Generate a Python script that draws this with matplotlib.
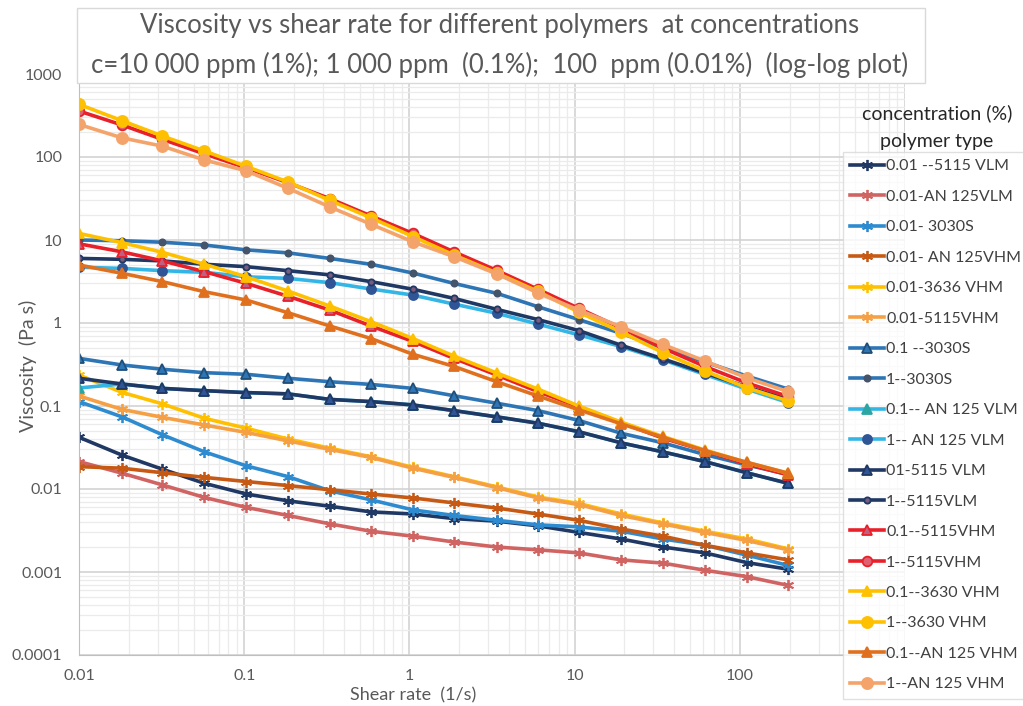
import numpy as np
import matplotlib.pyplot as plt
from matplotlib.patches import Rectangle
from matplotlib.ticker import LogLocator, FixedLocator, FixedFormatter, NullFormatter

plt.rcParams['font.family'] = ['Lato', 'DejaVu Sans']

# shear rate points (1/s)
shear = [0.01, 0.0182, 0.0320, 0.0575, 0.103, 0.184, 0.330, 0.585, 1.05,
         1.86, 3.38, 6.0, 10.6, 19.1, 34.2, 61.4, 110, 196]

# viscosity (Pa s), one list per series
v001_5115VLM = [0.042, 0.0256, 0.0173, 0.0117, 0.0087, 0.0072, 0.0062, 0.0053, 0.0050,
                0.0044, 0.0041, 0.0036, 0.0030, 0.0025, 0.0020, 0.0017, 0.0013, 0.00108]
v001_AN125VLM = [0.0214, 0.0155, 0.0112, 0.0079, 0.0060, 0.0048, 0.0038, 0.0031, 0.0027,
                 0.0023, 0.0020, 0.00185, 0.0017, 0.0014, 0.00128, 0.00105, 0.00088, 0.00069]
v001_3030S = [0.113, 0.074, 0.045, 0.028, 0.019, 0.0141, 0.0095, 0.0074, 0.0056,
              0.0048, 0.0042, 0.0037, 0.0035, 0.0031, 0.0025, 0.0021, 0.0016, 0.0012]
v001_AN125VHM = [0.0186, 0.0178, 0.0157, 0.0138, 0.0123, 0.0110, 0.0098, 0.0087, 0.0078,
                 0.0068, 0.0059, 0.0050, 0.0042, 0.0033, 0.0027, 0.0021, 0.0017, 0.0014]
v001_3636VHM = [0.236, 0.146, 0.106, 0.071, 0.054, 0.040, 0.031, 0.0245, 0.0182,
                0.0141, 0.0106, 0.0080, 0.0067, 0.0050, 0.0039, 0.0031, 0.0025, 0.0019]
v001_5115VHM = [0.132, 0.091, 0.073, 0.059, 0.048, 0.038, 0.030, 0.024, 0.0178,
                0.0138, 0.0104, 0.0078, 0.0065, 0.0048, 0.0038, 0.0030, 0.0024, 0.00185]
v01_3030S = [0.375, 0.312, 0.277, 0.252, 0.241, 0.216, 0.196, 0.182, 0.163,
             0.133, 0.108, 0.088, 0.067, 0.047, 0.036, 0.026, 0.0195, 0.0150]
v1_3030S = [10.0, 9.8, 9.4, 8.7, 7.6, 7.0, 6.0, 5.1, 4.0,
            3.0, 2.28, 1.57, 1.1, 0.75, 0.5, 0.34, 0.23, 0.16]
v01_AN125VLM = [0.165, 0.184, 0.163, 0.153, 0.145, 0.140, 0.120, 0.113, 0.103,
                0.088, 0.074, 0.062, 0.049, 0.036, 0.028, 0.0214, 0.0157, 0.0117]
v1_AN125VLM = [4.7, 4.55, 4.27, 4.08, 3.6, 3.45, 3.06, 2.57, 2.17,
               1.69, 1.31, 0.97, 0.72, 0.52, 0.36, 0.24, 0.16, 0.11]
v01_5115VLM = [0.216, 0.184, 0.163, 0.153, 0.145, 0.140, 0.120, 0.113, 0.103,
               0.088, 0.074, 0.062, 0.049, 0.036, 0.028, 0.0214, 0.0157, 0.0117]
v1_5115VLM = [6.0, 5.85, 5.6, 5.1, 4.77, 4.27, 3.8, 3.15, 2.55,
              1.98, 1.46, 1.1, 0.81, 0.54, 0.37, 0.25, 0.17, 0.12]
v01_5115VHM = [9.0, 7.2, 5.6, 4.15, 3.0, 2.1, 1.43, 0.92, 0.6,
               0.375, 0.236, 0.149, 0.098, 0.063, 0.041, 0.029, 0.020, 0.0148]
v1_5115VHM = [358, 243, 163, 109, 74, 49, 31.5, 19.5, 12.0,
              7.2, 4.3, 2.55, 1.5, 0.87, 0.5, 0.3, 0.19, 0.13]
v01_3630VHM = [12.0, 9.3, 7.1, 5.1, 3.6, 2.43, 1.6, 1.04, 0.65,
               0.40, 0.25, 0.16, 0.100, 0.064, 0.043, 0.0295, 0.0209, 0.0155]
v1_3630VHM = [431, 274, 179, 118, 77, 50, 30, 18.5, 11.0,
              6.6, 4.0, 2.4, 1.35, 0.78, 0.44, 0.264, 0.166, 0.115]
v01_AN125VHM = [5.0, 3.97, 3.15, 2.38, 1.89, 1.33, 0.92, 0.65, 0.42,
                0.30, 0.196, 0.132, 0.09, 0.061, 0.042, 0.029, 0.021, 0.0155]
v1_AN125VHM = [247, 170, 135, 92, 68, 42, 25, 15.5, 9.5,
               6.3, 3.9, 2.3, 1.43, 0.90, 0.553, 0.348, 0.219, 0.149]

labels = ['0.01 --5115 VLM', '0.01-AN 125VLM', '0.01- 3030S', '0.01- AN 125VHM',
          '0.01-3636 VHM', '0.01-5115VHM', '0.1 --3030S', '1--3030S',
          '0.1-- AN 125 VLM', '1-- AN 125 VLM', '01-5115 VLM', '1--5115VLM',
          '0.1--5115VHM', '1--5115VHM', '0.1--3630 VHM', '1--3630 VHM',
          '0.1--AN 125 VHM', '1--AN 125 VHM']
series = [v001_5115VLM, v001_AN125VLM, v001_3030S, v001_AN125VHM, v001_3636VHM,
          v001_5115VHM, v01_3030S, v1_3030S, v01_AN125VLM, v1_AN125VLM,
          v01_5115VLM, v1_5115VLM, v01_5115VHM, v1_5115VHM, v01_3630VHM,
          v1_3630VHM, v01_AN125VHM, v1_AN125VHM]

ast = (6, 2, 0)
# (line colour, marker, marker size, marker face, marker edge)
styles = [
    ('#203864', ast, 8, '#203864', '#203864'),
    ('#D06462', ast, 8, '#D06462', '#D06462'),
    ('#2E8BD0', ast, 8, '#2E8BD0', '#2E8BD0'),
    ('#C65A14', ast, 8, '#C65A14', '#C65A14'),
    ('#FFC000', ast, 8, '#FFC000', '#FFC000'),
    ('#F5A045', ast, 8, '#F5A045', '#F5A045'),
    ('#2E75B6', '^', 7, '#2E75B6', '#1F4E79'),
    ('#2E75B6', 'o', 4.5, '#44546A', '#44546A'),
    ('#33B5E5', '^', 7, '#2CA6A4', '#2CA6A4'),
    ('#33B5E5', 'o', 6.5, '#2F5597', '#2F5597'),
    ('#1F3864', '^', 7, '#2F5597', '#1F3864'),
    ('#1F3864', 'o', 4.5, '#7A5C7E', '#1F3864'),
    ('#E8202A', '^', 7, '#C06080', '#E8202A'),
    ('#E8202A', 'o', 7, '#E06070', '#E8202A'),
    ('#FFC000', '^', 7, '#FFC000', '#FFC000'),
    ('#FFC000', 'o', 8, '#FFC000', '#FFC000'),
    ('#E0701E', '^', 7, '#E0701E', '#E0701E'),
    ('#F4A46A', 'o', 8, '#F4A46A', '#F4A46A'),
]

fig = plt.figure(figsize=(10.23, 7.06), dpi=100)
ax = fig.add_axes([79 / 1023, 51 / 706, 826 / 1023, 581 / 706])

for vals, lab, (lc, mk, ms, mf, me) in zip(series, labels, styles):
    ax.plot(shear, vals, color=lc, lw=2.6, marker=mk, markersize=ms,
            markerfacecolor=mf, markeredgecolor=me, markeredgewidth=1.3, label=lab)

ax.set_xscale('log')
ax.set_yscale('log')
ax.set_xlim(0.01, 1000)
ax.set_ylim(0.0001, 1000)

# the 1000 label on x sits under the legend in the original
xt = [0.01, 0.1, 1, 10, 100, 1000]
yt = [0.0001, 0.001, 0.01, 0.1, 1, 10, 100, 1000]
ax.xaxis.set_major_locator(FixedLocator(xt))
ax.xaxis.set_major_formatter(FixedFormatter(['0.01', '0.1', '1', '10', '100', '']))
ax.yaxis.set_major_locator(FixedLocator(yt))
ax.yaxis.set_major_formatter(FixedFormatter(['0.0001', '0.001', '0.01', '0.1', '1', '10', '100', '1000']))
ax.xaxis.set_minor_locator(LogLocator(base=10, subs=np.arange(2, 10), numticks=20))
ax.yaxis.set_minor_locator(LogLocator(base=10, subs=np.arange(2, 10), numticks=20))
ax.xaxis.set_minor_formatter(NullFormatter())
ax.yaxis.set_minor_formatter(NullFormatter())

ax.grid(which='major', color='#D0D0D0', lw=1.1)
ax.grid(which='minor', color='#EBEBEB', lw=0.9)
ax.set_axisbelow(True)
ax.tick_params(which='both', length=0, labelsize=11.5, colors='#595959', pad=12)
ax.tick_params(axis='x', pad=10)
for s in ['top', 'right']:
    ax.spines[s].set_visible(False)
for s in ['left', 'bottom']:
    ax.spines[s].set_color('#BFBFBF')

fig.text(28 / 1023, 1 - 366 / 706, 'Viscosity  (Pa s)', rotation=90, ha='center',
         va='center', fontsize=14, color='#595959')
fig.text(413 / 1023, 1 - 695 / 706, 'Shear rate  (1/s)', ha='center', va='center',
         fontsize=13, color='#595959')

# title box
fig.add_artist(Rectangle((77 / 1023, 1 - 83 / 706), 848 / 1023, 75 / 706,
                         transform=fig.transFigure, facecolor='white',
                         edgecolor='#D9D9D9', lw=1, zorder=5))
fig.text(500 / 1023, 1 - 26 / 706,
         'Viscosity vs shear rate for different polymers  at concentrations',
         ha='center', va='center', fontsize=18.5, color='#595959', zorder=6)
fig.text(500 / 1023, 1 - 65 / 706,
         'c=10 000 ppm (1%); 1 000 ppm  (0.1%);  100  ppm (0.01%)  (log-log plot)',
         ha='center', va='center', fontsize=18.5, color='#595959', zorder=6)

fig.text(937 / 1023, 1 - 113 / 706, 'concentration (%)', ha='center', va='center',
         fontsize=14, color='#262626')
fig.text(937 / 1023, 1 - 142 / 706, 'polymer type', ha='center', va='center',
         fontsize=14, color='#262626')

leg = fig.legend(loc='upper left', bbox_to_anchor=(843 / 1023, 1 - 152 / 706),
                 frameon=True, fancybox=False, fontsize=11.5, labelspacing=1.02,
                 handlelength=2.1, handletextpad=0.15, borderpad=0.45,
                 borderaxespad=0)
leg.get_frame().set_edgecolor('#D9D9D9')
leg.get_frame().set_linewidth(1)
for t in leg.get_texts():
    t.set_color('#404040')
leg.set_zorder(10)

fig.savefig('out.png', dpi=100)
